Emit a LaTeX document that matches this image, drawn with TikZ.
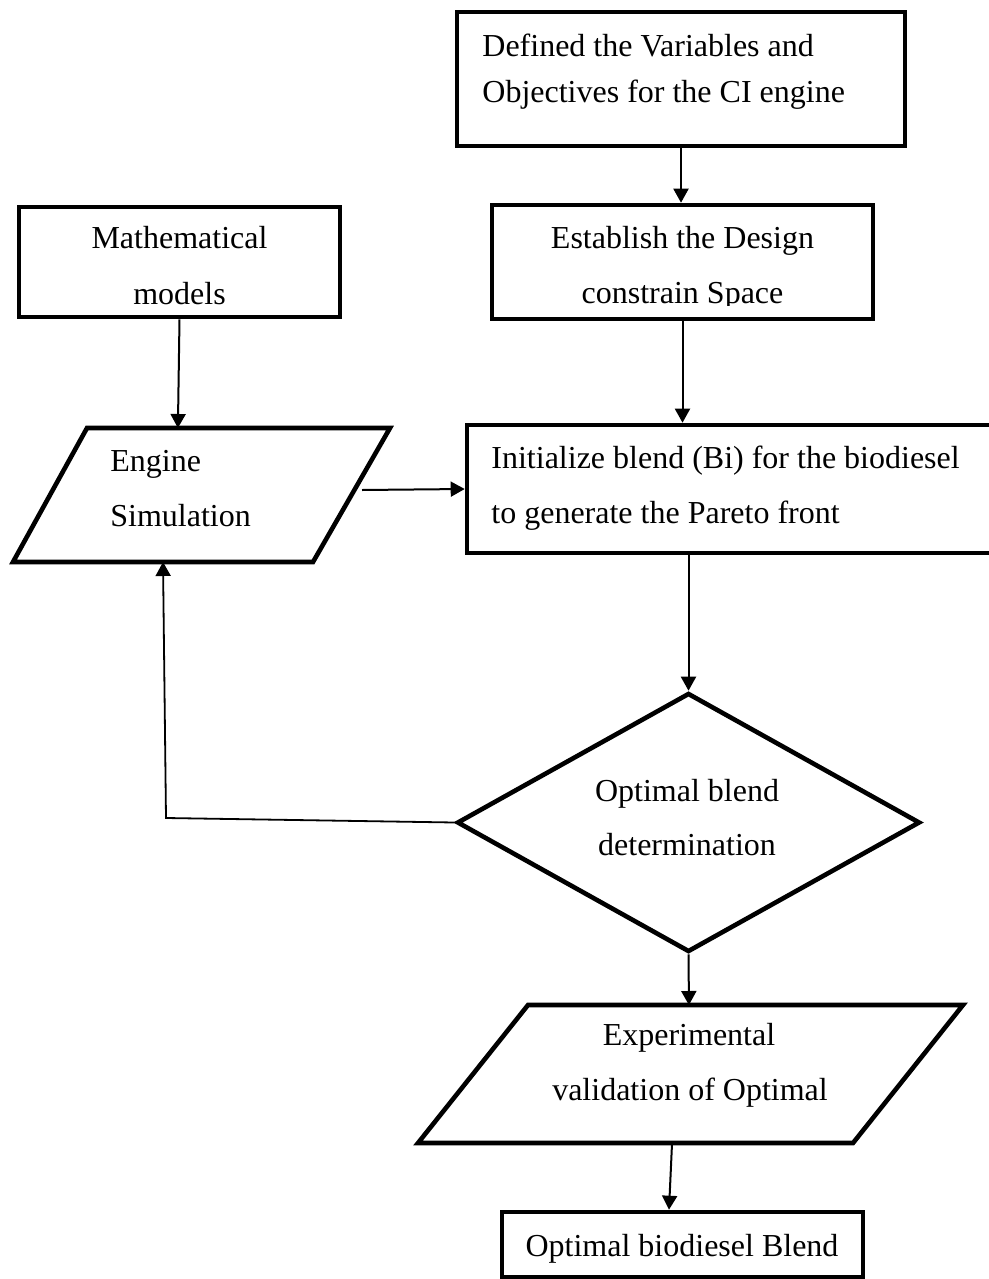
\documentclass[tikz,border=0pt]{standalone}
\usepackage{fontspec}
\setmainfont{Liberation Serif}
\usetikzlibrary{arrows.meta,shapes.geometric,calc}
\begin{document}
\begin{tikzpicture}[x=0.5pt,y=-0.5pt,
  box/.style={draw, line width=2.3pt, rectangle, inner sep=0pt},
  decision/.style={draw, line width=2.3pt, diamond, inner sep=0pt},
  io/.style={draw, line width=2.3pt, line join=miter},
  txt/.style={font=\fontsize{16pt}{27.5pt}\selectfont, inner sep=0pt},
  arr/.style={line width=1pt, -{Triangle[length=7pt,width=7.5pt]}},
  fb/.style={line width=0.9pt, -{Triangle[length=7pt,width=7.5pt]}},
]
\useasboundingbox (0,0) rectangle (989,1279);

% rectangles and decision
\node[box, minimum width=224pt, minimum height=67pt] (def) at (681,79) {};
\node[box, minimum width=160.5pt, minimum height=55pt] (math) at (179.5,262) {};
\node[box, minimum width=190.5pt, minimum height=57pt] (est) at (682.5,262) {};
\node[box, minimum width=264.5pt, minimum height=64pt] (init) at (731.5,489) {};
\node[decision, minimum width=231.5pt, minimum height=129.5pt] (opt) at (688.5,822.5) {};
\node[box, minimum width=180.5pt, minimum height=32.5pt] (final) at (682.5,1244.5) {};

% parallelograms
\coordinate (eng-bl) at (13,562);
\coordinate (eng-br) at (313,562);
\coordinate (eng-tr) at (390,428);
\coordinate (eng-tl) at (87,428);
\draw[io] (eng-bl) -- (eng-br) -- (eng-tr) -- (eng-tl) -- cycle;
\coordinate (exp-bl) at (418,1143);
\coordinate (exp-br) at (853,1143);
\coordinate (exp-tr) at (963,1005);
\coordinate (exp-tl) at (528,1005);
\draw[io] (exp-bl) -- (exp-br) -- (exp-tr) -- (exp-tl) -- cycle;

% texts
\node[txt, anchor=base west] (def-1) at (482,57) {Defined the Variables and};
\node[txt, anchor=base west] (def-2) at (482,103) {Objectives for the CI engine};
\node[txt, anchor=base] (math-1) at (179.5,248) {Mathematical};
\node[txt, anchor=base] (math-2) at (179.5,304) {models};
\node[txt, anchor=base] (est-1) at (682.5,248) {Establish the Design};
\begin{scope}
  \clip (492,205) rectangle (873,305);
  \node[txt, anchor=base] (est-2) at (682.5,303) {constrain Space};
\end{scope}
\node[txt, anchor=base west] (init-1) at (491,468) {Initialize blend (Bi) for the biodiesel};
\node[txt, anchor=base west] (init-2) at (491,523) {to generate the Pareto front};
\node[txt, anchor=base west] (eng-1) at (110,471) {Engine};
\node[txt, anchor=base west] (eng-2) at (110,526) {Simulation};
\node[txt, anchor=base] (opt-1) at (687,801) {Optimal blend};
\node[txt, anchor=base] (opt-2) at (687,855) {determination};
\node[txt, anchor=base] (exp-1) at (689,1045) {Experimental};
\node[txt, anchor=base] (exp-2) at (690,1100) {validation of Optimal};
\node[txt, anchor=base] (final-1) at (682,1256) {Optimal biodiesel Blend};

% connectors
\draw[arr] (def.south) -- (def.south |- est.north);
\draw[arr] (math.south) -- ($(eng-tl)!0.3!(eng-tr)$);
\coordinate (eng-out) at (362,490);
\draw[arr] (eng-out) -- (init.west);
\draw[arr] (est.south) -- (est.south |- init.north);
\draw[arr] (init.south -| opt.north) -- (opt.north);
\coordinate (fb-corner) at (166,818);
\draw[fb] (opt.west) -- (fb-corner) -- ($(eng-bl)!0.5!(eng-br)$);
\draw[arr] (opt.south) -- ($(exp-tl)!0.37!(exp-tr)$);
\draw[arr] ($(exp-bl)!0.584!(exp-br)$) -- ([xshift=-6.75pt]final.north);
\end{tikzpicture}
\end{document}
